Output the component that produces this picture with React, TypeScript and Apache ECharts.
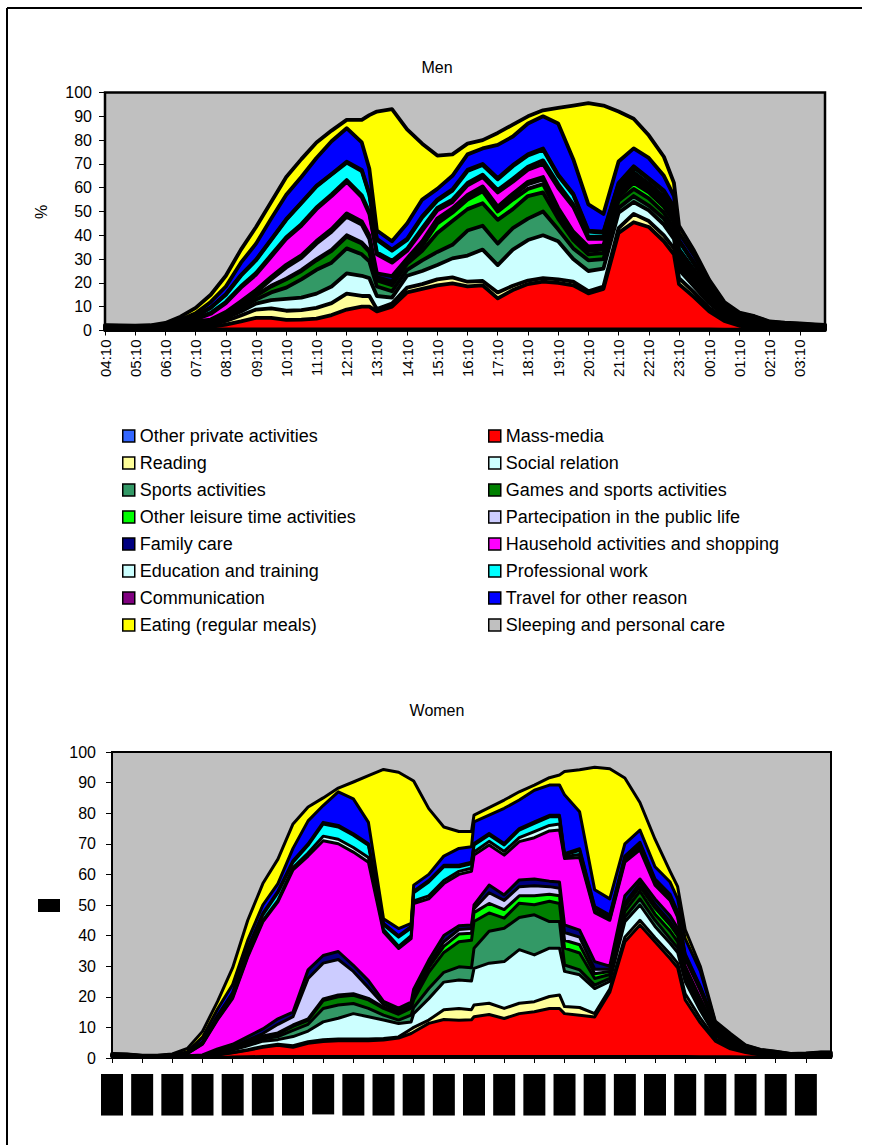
import React, { useEffect, useRef } from 'react';
import * as echarts from 'echarts';

// ---------- names, colours, ticks ----------
const seriesNames = [
  'Other private activities', 'Mass-media', 'Reading', 'Social relation',
  'Sports activities', 'Games and sports activities', 'Other leisure time activities',
  'Partecipation in the public life', 'Family care', 'Hausehold activities and shopping',
  'Education and training', 'Professional work', 'Communication',
  'Travel for other reason', 'Eating (regular meals)', 'Sleeping and personal care',
];
const seriesColors = [
  '#3366FF', '#FF0000', '#FFFF99', '#CCFFFF', '#339966', '#008000', '#00FF00', '#CCCCFF',
  '#000080', '#FF00FF', '#CCFFFF', '#00FFFF', '#800080', '#0000FF', '#FFFF00', '#C0C0C0',
];
const tickLabels = [
  '04:10', '05:10', '06:10', '07:10', '08:10', '09:10', '10:10', '11:10', '12:10', '13:10', '14:10', '15:10',
  '16:10', '17:10', '18:10', '19:10', '20:10', '21:10', '22:10', '23:10', '00:10', '01:10', '02:10', '03:10',
];

// ---------- MEN: upper edge of each band (cumulative %) ----------
const menTimes = [
  '04:10', '04:40', '05:10', '05:40', '06:10', '06:40', '07:10', '07:40', '08:10', '08:40', '09:10', '09:40',
  '10:10', '10:40', '11:10', '11:40', '12:10', '12:40', '12:55', '13:10', '13:40', '14:10', '14:40', '15:10',
  '15:40', '16:10', '16:40', '17:10', '17:40', '18:10', '18:40', '19:10', '19:40', '20:10', '20:40', '21:10',
  '21:40', '22:10', '22:40', '23:00', '23:10', '23:40', '00:10', '00:40', '01:10', '01:40', '02:10', '02:40',
  '03:10', '03:40', '04:00',
];
const menOtherPrivate = [0.3, 0.3, 0.3, 0.3, 0.3, 0.3, 0.4, 0.5, 0.5, 0.5, 0.5, 0.5, 0.5, 0.5, 0.5, 0.5, 0.5, 0.5, 0.5, 0.5, 0.5, 0.5, 0.5, 0.5, 0.5, 0.5, 0.5, 0.5, 0.5, 0.5, 0.5, 0.5, 0.5, 0.5, 0.5, 0.5, 0.5, 0.5, 0.5, 0.5, 0.5, 0.5, 0.5, 0.4, 0.4, 0.4, 0.4, 0.3, 0.3, 0.3, 0.3];
const menMassMedia = [0.6, 0.6, 0.5, 0.5, 0.5, 0.7, 1.2, 1.5, 2.5, 3.8, 5.3, 5.3, 4.5, 4.6, 5.0, 6.5, 8.8, 10.0, 10.0, 8.0, 10.0, 16.0, 17.5, 19.0, 19.8, 18.5, 19.0, 13.5, 17.0, 19.5, 20.5, 20.0, 19.0, 15.6, 17.5, 41.0, 45.5, 43.5, 37.5, 32.0, 19.5, 14.0, 8.0, 4.0, 2.0, 1.3, 0.8, 0.7, 0.6, 0.6, 0.6];
const menReading = [0.65, 0.65, 0.55, 0.55, 0.6, 0.8, 1.6, 2.2, 4.0, 6.3, 8.8, 9.3, 8.3, 8.6, 9.5, 11.5, 15.5, 14.5, 14.5, 9.0, 11.3, 18.0, 19.5, 21.5, 22.3, 20.5, 20.8, 16.0, 18.8, 21.0, 22.0, 21.5, 20.5, 16.5, 18.5, 43.0, 49.0, 46.0, 40.0, 34.5, 22.0, 16.0, 9.5, 5.0, 2.7, 1.8, 1.1, 0.9, 0.8, 0.7, 0.65];
const menSocial = [0.85, 0.8, 0.7, 0.7, 0.8, 1.1, 2.2, 3.0, 5.2, 8.0, 11.3, 12.8, 13.3, 13.8, 15.5, 18.5, 24.0, 23.0, 22.0, 14.5, 13.8, 23.0, 25.0, 27.5, 30.3, 31.5, 34.0, 27.5, 34.0, 38.0, 40.0, 37.5, 30.0, 25.0, 26.0, 49.5, 54.0, 50.5, 44.5, 38.5, 25.5, 18.5, 11.5, 6.2, 3.5, 2.5, 1.5, 1.3, 1.1, 1.0, 0.9];
const menSports = [0.85, 0.8, 0.7, 0.7, 0.8, 1.2, 2.9, 3.4, 6.0, 9.3, 13.0, 16.0, 18.0, 21.5, 25.5, 28.5, 34.5, 32.0, 29.0, 18.5, 16.5, 25.5, 29.5, 33.0, 36.0, 42.0, 44.0, 36.5, 43.0, 47.0, 50.0, 42.5, 34.5, 29.5, 30.0, 51.5, 56.5, 52.5, 47.0, 40.5, 27.0, 19.5, 12.3, 6.6, 3.8, 2.7, 1.6, 1.4, 1.2, 1.0, 0.9];
const menGames = [0.9, 0.85, 0.75, 0.75, 0.9, 1.3, 3.1, 3.8, 6.6, 10.4, 14.6, 18.5, 21.5, 25.0, 29.5, 33.5, 39.4, 36.5, 33.0, 21.0, 19.0, 28.0, 33.5, 41.0, 46.0, 51.0, 53.5, 46.5, 51.0, 56.5, 58.0, 47.0, 38.0, 32.0, 32.5, 54.5, 59.5, 55.5, 49.5, 43.0, 29.0, 21.0, 13.3, 7.2, 4.2, 3.0, 1.8, 1.5, 1.3, 1.1, 1.0];
const menLeisure = [0.95, 0.9, 0.8, 0.8, 0.95, 1.4, 3.3, 4.0, 6.8, 10.7, 14.9, 18.8, 21.8, 25.4, 29.9, 33.9, 40.0, 37.0, 33.6, 21.6, 19.8, 28.8, 35.5, 45.0, 49.5, 55.0, 58.5, 50.0, 55.0, 59.5, 61.5, 49.0, 39.5, 33.5, 34.0, 56.0, 62.0, 58.0, 52.0, 45.5, 31.0, 23.0, 14.6, 8.0, 4.7, 3.4, 2.0, 1.7, 1.5, 1.2, 1.1];
const menPublicLife = [0.95, 0.9, 0.8, 0.8, 1.0, 1.5, 3.5, 4.2, 7.2, 11.5, 16.0, 21.5, 26.5, 30.5, 36.5, 41.5, 47.8, 44.5, 38.5, 22.5, 20.6, 29.5, 36.5, 46.0, 50.5, 56.0, 59.5, 51.0, 56.5, 61.5, 63.5, 50.5, 40.5, 34.3, 34.8, 57.0, 63.0, 58.8, 53.0, 46.3, 31.5, 23.5, 15.0, 8.3, 4.9, 3.5, 2.1, 1.8, 1.6, 1.3, 1.1];
const menFamily = [1.0, 0.95, 0.85, 0.9, 1.1, 1.7, 3.8, 4.6, 7.8, 12.3, 17.0, 22.5, 27.6, 31.6, 37.6, 42.6, 49.2, 45.8, 40.0, 24.0, 22.8, 30.3, 37.5, 47.0, 51.3, 57.0, 60.5, 52.0, 57.5, 62.5, 64.5, 51.5, 41.5, 35.3, 35.8, 58.0, 64.0, 59.6, 54.0, 47.0, 32.2, 24.0, 15.5, 8.6, 5.1, 3.7, 2.2, 1.9, 1.7, 1.4, 1.2];
const menHousehold = [1.2, 1.1, 1.0, 1.1, 1.5, 2.5, 4.6, 7.0, 11.5, 18.0, 23.5, 31.0, 38.5, 44.0, 51.0, 56.5, 62.5, 56.0, 49.0, 32.0, 28.5, 33.5, 42.0, 50.5, 54.0, 61.0, 64.5, 58.0, 62.5, 67.5, 70.0, 60.0, 52.0, 38.5, 38.5, 59.5, 65.5, 61.0, 55.5, 48.5, 33.5, 25.0, 16.3, 9.0, 5.4, 4.0, 2.4, 2.1, 1.9, 1.6, 1.4];
const menEducation = [1.2, 1.1, 1.0, 1.1, 1.6, 2.7, 5.0, 7.4, 12.0, 18.6, 24.2, 31.7, 39.2, 44.7, 51.7, 57.2, 63.2, 56.8, 49.8, 32.8, 29.3, 34.3, 43.0, 51.5, 55.0, 62.0, 65.5, 59.0, 63.8, 68.8, 71.5, 61.5, 53.0, 39.5, 39.3, 60.3, 66.5, 61.8, 56.3, 49.3, 34.2, 25.5, 16.8, 9.3, 5.6, 4.1, 2.5, 2.2, 2.0, 1.7, 1.4];
const menProfessional = [1.5, 1.4, 1.3, 1.4, 2.0, 3.4, 5.8, 9.5, 15.0, 23.0, 29.5, 38.0, 46.5, 53.5, 60.5, 65.5, 70.5, 67.0, 57.0, 38.0, 33.5, 38.0, 47.5, 54.5, 58.8, 67.0, 69.5, 63.5, 69.0, 73.5, 76.0, 65.0, 57.0, 41.5, 41.0, 61.5, 68.5, 63.5, 58.3, 51.5, 37.5, 28.0, 18.3, 10.3, 6.3, 4.6, 2.8, 2.5, 2.3, 2.0, 1.8];
const menCommunication = [1.55, 1.45, 1.35, 1.45, 2.1, 3.5, 6.0, 9.7, 15.3, 23.3, 29.8, 38.3, 46.8, 53.8, 60.8, 65.8, 70.9, 67.5, 57.5, 38.5, 34.0, 38.5, 48.0, 55.0, 59.3, 67.5, 70.0, 64.0, 69.5, 74.0, 76.5, 65.5, 57.5, 42.0, 41.5, 62.0, 69.0, 64.0, 58.8, 52.0, 38.0, 28.5, 18.6, 10.5, 6.4, 4.7, 2.9, 2.6, 2.4, 2.1, 1.9];
const menTravel = [2.0, 1.9, 1.8, 1.9, 2.6, 4.5, 7.2, 12.0, 18.5, 28.5, 36.5, 47.0, 57.0, 64.5, 72.5, 79.5, 85.0, 79.0, 68.0, 42.0, 37.5, 45.0, 55.0, 59.5, 65.0, 74.0, 76.5, 78.0, 81.5, 87.0, 90.0, 87.0, 72.0, 53.0, 49.0, 71.0, 76.5, 72.5, 65.0, 56.5, 41.0, 31.5, 20.0, 11.3, 7.2, 5.8, 3.6, 3.1, 2.8, 2.4, 2.2];
const menEating = [2.2, 2.1, 2.0, 2.2, 3.2, 5.8, 9.5, 15.0, 23.0, 34.0, 43.5, 54.0, 64.5, 72.0, 79.0, 84.0, 88.5, 88.5, 90.5, 92.0, 93.0, 84.5, 78.5, 73.5, 74.0, 78.5, 80.0, 83.0, 86.5, 90.0, 92.5, 93.5, 94.5, 95.5, 94.5, 92.0, 89.0, 82.0, 73.0, 62.0, 44.0, 33.5, 21.3, 12.0, 7.5, 6.0, 3.8, 3.3, 3.0, 2.6, 2.4];

// ---------- WOMEN: upper edge of each band (cumulative %) ----------
const womenTimes = [
  '04:10', '04:40', '05:10', '05:40', '06:10', '06:40', '07:10', '07:40', '08:10', '08:40', '09:10', '09:40',
  '10:10', '10:40', '11:10', '11:40', '12:10', '12:40', '13:10', '13:40', '14:05', '14:10', '14:40', '15:10',
  '15:40', '16:05', '16:10', '16:40', '17:10', '17:40', '18:10', '18:40', '19:00', '19:10', '19:40', '20:10',
  '20:40', '21:10', '21:40', '22:10', '22:40', '22:55', '23:10', '23:40', '00:10', '00:40', '01:10', '01:40',
  '02:10', '02:40', '03:10', '03:40', '04:00',
];
const womenOtherPrivate = [0.3, 0.3, 0.2, 0.2, 0.2, 0.2, 0.2, 0.2, 0.3, 0.4, 0.5, 0.5, 0.5, 0.5, 0.5, 0.5, 0.5, 0.5, 0.5, 0.5, 0.5, 0.5, 0.5, 0.5, 0.5, 0.5, 0.5, 0.5, 0.5, 0.5, 0.5, 0.5, 0.5, 0.5, 0.5, 0.5, 0.5, 0.5, 0.5, 0.5, 0.5, 0.5, 0.5, 0.4, 0.4, 0.4, 0.3, 0.3, 0.3, 0.3, 0.3, 0.3, 0.3];
const womenMassMedia = [0.5, 0.45, 0.3, 0.3, 0.3, 0.3, 0.4, 1.0, 1.7, 2.5, 3.5, 4.2, 3.5, 4.8, 5.4, 5.6, 5.6, 5.6, 5.9, 6.5, 8.0, 8.5, 11.3, 12.6, 12.3, 12.5, 13.5, 14.2, 12.9, 14.5, 15.1, 16.2, 16.2, 14.5, 14.0, 13.4, 21.5, 38.0, 43.5, 38.0, 32.5, 29.5, 19.0, 11.5, 5.5, 3.0, 1.8, 1.0, 0.6, 0.4, 0.4, 0.5, 0.5];
const womenReading = [0.55, 0.5, 0.35, 0.35, 0.35, 0.35, 0.45, 1.1, 1.8, 2.7, 3.8, 4.5, 4.0, 5.3, 6.0, 6.2, 6.2, 6.2, 6.4, 6.9, 9.5, 10.0, 12.4, 15.8, 16.2, 15.8, 17.3, 17.9, 16.2, 17.9, 18.4, 20.1, 20.6, 16.8, 16.5, 14.5, 22.5, 39.5, 45.0, 39.3, 34.0, 31.0, 21.0, 13.0, 6.3, 3.5, 2.0, 1.1, 0.7, 0.45, 0.45, 0.55, 0.55];
const womenSocial = [0.7, 0.6, 0.4, 0.4, 0.4, 0.45, 0.6, 1.6, 2.6, 4.0, 5.5, 6.0, 7.0, 8.8, 11.8, 13.0, 14.5, 13.5, 12.4, 11.3, 11.8, 14.5, 19.4, 24.8, 25.5, 25.2, 29.3, 31.0, 31.5, 35.4, 33.7, 35.9, 35.9, 28.3, 27.2, 22.7, 25.0, 44.5, 50.0, 43.0, 37.5, 34.5, 25.0, 15.5, 7.3, 4.2, 2.4, 1.4, 0.9, 0.6, 0.6, 0.75, 0.75];
const womenSports = [0.7, 0.6, 0.4, 0.4, 0.4, 0.45, 0.6, 1.8, 2.9, 4.5, 6.2, 7.0, 9.0, 11.0, 16.2, 17.3, 17.8, 16.2, 14.0, 12.4, 14.0, 16.5, 22.7, 28.0, 29.8, 29.5, 35.9, 41.4, 42.4, 45.9, 46.8, 44.6, 44.6, 30.4, 28.8, 23.8, 26.0, 46.0, 52.0, 45.0, 39.0, 36.0, 26.0, 16.3, 7.7, 4.5, 2.5, 1.5, 1.0, 0.65, 0.65, 0.8, 0.8];
const womenGames = [0.75, 0.65, 0.45, 0.45, 0.45, 0.5, 0.65, 2.0, 3.2, 5.0, 6.8, 7.8, 10.3, 12.3, 18.8, 20.0, 20.5, 19.0, 16.2, 14.3, 16.3, 19.0, 28.0, 34.5, 38.0, 38.5, 44.6, 47.4, 45.7, 50.6, 50.1, 51.2, 50.5, 35.9, 34.3, 26.0, 27.3, 48.0, 54.5, 47.0, 41.5, 38.0, 27.5, 17.3, 8.2, 4.8, 2.7, 1.6, 1.1, 0.7, 0.7, 0.85, 0.85];
const womenLeisure = [0.8, 0.7, 0.5, 0.5, 0.5, 0.55, 0.7, 2.1, 3.4, 5.3, 7.2, 8.2, 10.8, 12.8, 19.3, 20.6, 21.0, 19.5, 16.6, 14.7, 16.8, 20.0, 29.5, 36.5, 40.5, 40.8, 47.5, 50.5, 48.5, 53.0, 53.0, 53.5, 53.0, 38.5, 37.0, 27.5, 28.3, 49.5, 56.0, 49.0, 43.5, 40.0, 28.5, 18.3, 8.8, 5.2, 2.9, 1.8, 1.2, 0.8, 0.8, 0.95, 0.95];
const womenPublicLife = [0.8, 0.7, 0.5, 0.5, 0.5, 0.55, 0.7, 2.3, 3.7, 5.8, 8.0, 11.0, 13.5, 26.0, 31.0, 32.2, 28.3, 23.0, 17.5, 15.3, 17.3, 21.0, 30.5, 38.0, 42.0, 42.3, 48.8, 54.0, 51.5, 56.0, 56.3, 56.0, 55.5, 41.0, 39.5, 29.0, 29.0, 50.5, 57.2, 50.2, 44.5, 41.0, 29.0, 18.8, 9.0, 5.4, 3.0, 1.9, 1.3, 0.85, 0.85, 1.0, 1.0];
const womenFamily = [0.9, 0.8, 0.55, 0.55, 0.6, 0.7, 1.0, 3.0, 4.5, 7.0, 9.5, 12.8, 15.0, 28.8, 33.5, 34.8, 30.3, 25.3, 18.5, 16.3, 18.3, 22.5, 32.0, 40.0, 43.2, 43.5, 50.0, 56.5, 53.3, 58.2, 58.5, 57.8, 57.5, 43.5, 41.8, 31.5, 30.0, 53.0, 58.5, 52.0, 46.5, 42.5, 30.0, 19.5, 9.5, 5.7, 3.2, 2.0, 1.4, 0.9, 0.95, 1.1, 1.1];
const womenHousehold = [1.0, 0.9, 0.65, 0.65, 0.9, 1.5, 4.5, 12.5, 19.5, 33.0, 44.5, 51.0, 61.5, 66.0, 71.0, 70.0, 67.3, 64.0, 41.2, 35.8, 39.0, 50.5, 52.0, 57.0, 60.0, 61.0, 66.3, 69.6, 66.3, 70.7, 72.0, 74.2, 74.5, 65.2, 65.5, 47.5, 45.0, 64.0, 68.0, 56.5, 51.5, 46.0, 32.5, 22.0, 10.5, 6.4, 3.6, 2.3, 1.7, 1.1, 1.15, 1.35, 1.35];
const womenEducation = [1.0, 0.9, 0.65, 0.65, 0.9, 1.5, 4.7, 12.8, 19.9, 33.5, 45.0, 51.5, 62.2, 67.0, 72.5, 71.5, 68.8, 65.5, 42.0, 36.5, 40.0, 51.3, 53.0, 58.0, 61.0, 62.0, 67.3, 70.8, 67.5, 72.0, 74.0, 76.0, 76.5, 65.8, 66.5, 48.0, 45.5, 64.7, 69.0, 57.2, 52.2, 46.6, 33.0, 22.5, 10.8, 6.6, 3.7, 2.4, 1.8, 1.15, 1.2, 1.4, 1.4];
const womenProfessional = [1.1, 1.0, 0.7, 0.7, 0.95, 1.6, 5.0, 13.6, 21.0, 35.5, 46.8, 54.0, 64.0, 69.5, 76.5, 75.5, 72.8, 69.5, 43.5, 39.5, 42.5, 54.0, 57.5, 62.5, 62.5, 63.5, 69.6, 72.9, 69.6, 74.5, 76.7, 78.8, 78.8, 66.3, 67.9, 49.0, 46.3, 65.5, 70.0, 58.0, 53.0, 47.3, 33.6, 23.0, 11.0, 6.8, 3.8, 2.5, 1.9, 1.25, 1.3, 1.55, 1.55];
const womenCommunication = [1.15, 1.05, 0.72, 0.72, 1.0, 1.7, 5.2, 13.9, 21.4, 36.0, 47.3, 54.5, 64.5, 70.0, 77.0, 76.0, 73.3, 70.0, 44.0, 40.0, 43.0, 54.5, 58.0, 63.0, 63.0, 64.0, 70.1, 73.4, 70.1, 75.0, 77.2, 79.3, 79.3, 66.8, 68.4, 49.5, 46.7, 66.0, 70.5, 58.5, 53.5, 47.8, 34.0, 23.4, 11.2, 7.0, 3.9, 2.55, 1.95, 1.3, 1.35, 1.6, 1.6];
const womenTravel = [1.35, 1.2, 0.82, 0.82, 1.1, 2.0, 6.8, 16.0, 24.0, 38.5, 50.0, 57.0, 68.5, 77.5, 82.5, 87.0, 84.7, 77.0, 45.5, 42.3, 44.0, 56.5, 60.0, 66.0, 68.5, 69.0, 77.2, 79.4, 81.6, 84.3, 87.5, 89.2, 89.2, 86.0, 80.5, 55.0, 52.0, 70.0, 74.5, 62.5, 57.5, 52.0, 39.0, 28.5, 11.6, 7.6, 4.1, 2.7, 2.1, 1.4, 1.5, 1.85, 1.85];
const womenEating = [1.5, 1.3, 0.9, 0.9, 1.3, 3.1, 8.7, 18.5, 29.5, 45.0, 57.0, 65.0, 76.5, 82.0, 85.0, 88.2, 90.2, 92.3, 94.3, 93.4, 91.0, 90.5, 81.5, 75.5, 74.0, 74.0, 79.4, 81.8, 84.3, 87.0, 89.2, 91.6, 92.5, 93.6, 94.2, 95.0, 94.5, 91.5, 83.5, 71.5, 61.0, 56.0, 42.0, 30.0, 12.0, 8.0, 4.3, 2.8, 2.2, 1.5, 1.6, 2.0, 2.0];

const menTops = [menOtherPrivate, menMassMedia, menReading, menSocial, menSports, menGames, menLeisure, menPublicLife, menFamily, menHousehold, menEducation, menProfessional, menCommunication, menTravel, menEating];
const womenTops = [womenOtherPrivate, womenMassMedia, womenReading, womenSocial, womenSports, womenGames, womenLeisure, womenPublicLife, womenFamily, womenHousehold, womenEducation, womenProfessional, womenCommunication, womenTravel, womenEating];

// ---------- helpers ----------
const FONT = 'Arial, "Liberation Sans", Helvetica, sans-serif';
const toMinutes = (s: string) => {
  const [h, m] = s.split(':').map(Number);
  return (h * 60 + m - 250 + 1440) % 1440;
};
const hourTicks = tickLabels.map((_, i) => i * 60);

// Each band is painted as an area from 0 up to its upper edge; bands are painted from the
// top one (sleeping, which reaches the 100% total) down to the bottom one, so every band
// shows between its own edge and the edge below it. Black edge lines go on a higher layer.
function buildSeries(times: string[], tops: number[][], gi: number, lw: number) {
  const xs = times.map(toMinutes);
  const edgesWithTotal = [...tops, xs.map(() => 100)];
  const areas = edgesWithTotal
    .map((top, k) => ({
      name: seriesNames[k],
      type: 'line',
      xAxisIndex: gi,
      yAxisIndex: gi,
      symbol: 'none',
      showSymbol: false,
      silent: true,
      z: 2,
      zlevel: 0,
      lineStyle: { width: 0, color: seriesColors[k], opacity: 0 },
      itemStyle: { color: seriesColors[k], borderColor: '#000' },
      areaStyle: { color: seriesColors[k], opacity: 1, origin: 'start' },
      data: xs.map((x, i) => [x, top[i]]),
    }))
    .reverse();
  const edges = tops.map((top, k) => ({
    name: 'edge-' + gi + '-' + k,
    type: 'line',
    xAxisIndex: gi,
    yAxisIndex: gi,
    symbol: 'none',
    showSymbol: false,
    silent: true,
    z: 20,
    zlevel: 1,
    lineStyle: { color: '#000', width: lw, join: 'round', cap: 'round' },
    data: xs.map((x, i) => [x, top[i]]),
  }));
  return [...areas, ...edges];
}

function xAxisFor(gi: number, boxed: boolean) {
  return {
    type: 'value',
    gridIndex: gi,
    min: 0,
    max: 1430,
    zlevel: 1,
    axisLine: { show: true, lineStyle: { color: '#000', width: 1.5 } },
    axisTick: { show: true, customValues: hourTicks, length: 5, lineStyle: { color: '#000', width: 1 } },
    axisLabel: {
      customValues: hourTicks,
      rotate: 90,
      margin: boxed ? 16 : 9,
      formatter: (v: number) => tickLabels[Math.round(v / 60)] ?? '',
      color: '#000',
      fontFamily: FONT,
      fontSize: 15,
      ...(boxed ? { backgroundColor: '#000', padding: [3, 2, 3, 2], lineHeight: 16 } : {}),
    },
    splitLine: { show: false },
  };
}

function yAxisFor(gi: number, margin: number) {
  return {
    type: 'value',
    gridIndex: gi,
    min: 0,
    max: 100,
    interval: 10,
    zlevel: 1,
    axisLine: { show: true, lineStyle: { color: '#000', width: 1.5 } },
    axisTick: { show: true, length: 6, lineStyle: { color: '#000', width: 1 } },
    axisLabel: { color: '#000', fontFamily: FONT, fontSize: 16, margin },
    splitLine: { show: false },
  };
}

const MEN = { left: 105, top: 92.5, width: 720, height: 238 };
const WOMEN = { left: 112, top: 752, width: 719, height: 306 };

const legendBase = {
  orient: 'vertical',
  top: 427,
  padding: 0,
  icon: 'rect',
  itemWidth: 12,
  itemHeight: 12,
  itemGap: 9,
  selectedMode: false,
  textStyle: { color: '#000', fontFamily: FONT, fontSize: 18, lineHeight: 18 },
  itemStyle: { borderColor: '#000', borderWidth: 1.5 },
};

export default function App() {
  const ref = useRef<HTMLDivElement>(null);
  useEffect(() => {
    const chart = echarts.init(ref.current!, undefined, { renderer: 'svg' });
    const option = {
      animation: false,
      backgroundColor: '#fff',
      grid: [
        { ...MEN, show: true, backgroundColor: '#C0C0C0', borderWidth: 0 },
        { ...WOMEN, show: true, backgroundColor: '#C0C0C0', borderWidth: 0 },
      ],
      xAxis: [xAxisFor(0, false), xAxisFor(1, true)],
      yAxis: [yAxisFor(0, 13), yAxisFor(1, 16)],
      legend: [
        { ...legendBase, left: 122, data: seriesNames.filter((_, i) => i % 2 === 0) },
        { ...legendBase, left: 488, data: seriesNames.filter((_, i) => i % 2 === 1) },
      ],
      graphic: [
        { type: 'line', zlevel: 2, z: 100, shape: { x1: 7, y1: 8, x2: 862, y2: 8 }, style: { stroke: '#000', lineWidth: 2 } },
        { type: 'line', zlevel: 2, z: 100, shape: { x1: 7, y1: 8, x2: 7, y2: 1145 }, style: { stroke: '#000', lineWidth: 2 } },
        { type: 'rect', zlevel: 2, z: 100, shape: { x: MEN.left, y: MEN.top, width: MEN.width, height: MEN.height }, style: { fill: 'none', stroke: '#000', lineWidth: 2.5 } },
        { type: 'rect', zlevel: 2, z: 100, shape: { x: WOMEN.left, y: WOMEN.top, width: WOMEN.width, height: WOMEN.height }, style: { fill: 'none', stroke: '#000', lineWidth: 2 } },
        { type: 'text', zlevel: 2, z: 100, x: 437, y: 67, style: { text: 'Men', font: `16px ${FONT}`, fill: '#000', textAlign: 'center', textVerticalAlign: 'middle' } },
        { type: 'text', zlevel: 2, z: 100, x: 437, y: 710, style: { text: 'Women', font: `16px ${FONT}`, fill: '#000', textAlign: 'center', textVerticalAlign: 'middle' } },
        { type: 'text', zlevel: 2, z: 100, x: 41, y: 212, rotation: Math.PI / 2, style: { text: '%', font: `16px ${FONT}`, fill: '#000', textAlign: 'center', textVerticalAlign: 'middle' } },
        { type: 'rect', zlevel: 2, z: 100, shape: { x: 38, y: 899, width: 22, height: 13 }, style: { fill: '#000' } },
        { type: 'text', zlevel: 2, z: 101, x: 49, y: 905.5, style: { text: '%', font: `12px ${FONT}`, fill: '#000', textAlign: 'center', textVerticalAlign: 'middle' } },
      ],
      series: [
        ...buildSeries(menTimes, menTops, 0, 3.8),
        ...buildSeries(womenTimes, womenTops, 1, 3),
      ],
    };
    chart.setOption(option as any);
    return () => chart.dispose();
  }, []);
  return (
    <div
      ref={ref}
      style={{ position: 'absolute', left: 0, top: 0, width: 871, height: 1145, background: '#fff' }}
    />
  );
}
